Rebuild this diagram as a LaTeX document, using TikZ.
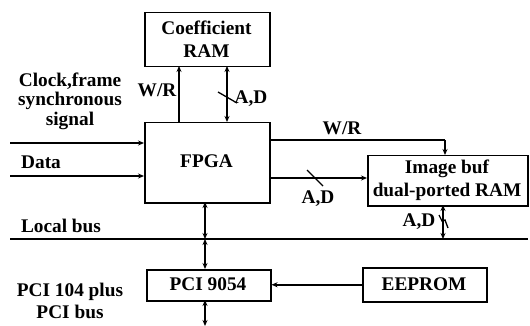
\documentclass[tikz,border=0pt]{standalone}
\usepackage{fontspec}
\setmainfont{Liberation Serif}
\usetikzlibrary{arrows.meta}
\begin{document}
\begin{tikzpicture}[x=1pt,y=-1pt,
  every node/.style={font=\fontsize{19.3}{23}\selectfont\bfseries},
  blk/.style={draw,line width=1.5pt,inner sep=0pt,anchor=north west},
  lbl/.style={inner sep=0pt,align=center},
  conn/.style={line width=1.5pt},
  arr/.style={conn,-{Stealth[length=6pt,width=5pt]}},
  barr/.style={conn,{Stealth[length=6pt,width=5pt]}-{Stealth[length=6pt,width=5pt]}},
  slash/.style={line width=1.3pt}]
\useasboundingbox (0,0) rectangle (530,326);
% blocks
\node[blk,minimum width=125pt,minimum height=54pt] (coef) at (144,12) {};
\node[lbl] (coeft) at (206.5,39) {Coefficient\\RAM};
\node[blk,minimum width=125pt,minimum height=80pt] (fpga) at (144,122) {};
\node[lbl] (fpgat) at (206.5,161) {FPGA};
\node[blk,minimum width=160pt,minimum height=50pt] (img) at (367,155) {};
\node[lbl] (imgt) at (447,180.5) {Image buf\\dual-ported RAM};
\node[blk,minimum width=124pt,minimum height=31pt] (pci) at (146,269) {};
\node[lbl] (pcit) at (208,284.5) {PCI 9054};
\node[blk,minimum width=124pt,minimum height=34pt] (eep) at (362,267) {};
\node[lbl] (eept) at (424,284) {EEPROM};
% coordinates
\coordinate (clk0) at (10,143);
\coordinate (dat0) at (10,176);
\coordinate (lb0) at (10,239);
\coordinate (lb1) at (528,239);
\coordinate (wrtop) at (179,66);
\coordinate (wrbot) at (179,122);
\coordinate (adtop) at (227,66);
\coordinate (adbot) at (227,122);
\coordinate (fl) at (205,202);
\coordinate (flb) at (205,239);
\coordinate (pt) at (205,269);
\coordinate (pb) at (205,300);
\coordinate (pend) at (205,326);
\coordinate (wr2a) at (269,140);
\coordinate (wr2b) at (445,140);
\coordinate (wr2c) at (445,155);
\coordinate (ad2a) at (269,178);
\coordinate (ad2b) at (367,178);
\coordinate (ad3a) at (443,205);
\coordinate (ad3b) at (443,239);
% connectors
\draw[arr] (clk0) -- (fpga.west |- clk0);
\draw[arr] (dat0) -- (fpga.west |- dat0);
\draw[conn] (lb0) -- (lb1);
\draw[arr] (wrbot) -- (wrtop);
\draw[barr] (adbot) -- (adtop);
\draw[slash] (218,92) -- (237,103);
\draw[barr] (fl) -- (flb);
\draw[barr] (flb) -- (pt);
\draw[barr] (pb) -- (pend);
\draw[conn] (wr2a) -- (wr2b);
\draw[arr] (wr2b) -- (wr2c);
\draw[arr] (ad2a) -- (ad2b);
\draw[slash] (307,170) -- (323,186);
\draw[barr] (ad3a) -- (ad3b);
\draw[slash] (439,215) -- (442,221) -- (445,220) -- (448,228);
\draw[arr] (eep.west) -- (pci.east |- eep.west);
% labels
\node[lbl] (clkl) at (70,81) {Clock,frame};
\node[lbl] (synl) at (70,101) {synchronous};
\node[lbl] (sigl) at (70,121) {signal};
\node[lbl] (datl) at (41,162) {Data};
\node[lbl] (lbl) at (61,226) {Local bus};
\node[lbl] (pcil1) at (70,292) {PCI 104 plus};
\node[lbl] (pcil2) at (70,312) {PCI bus};
\node[lbl] (wr1) at (157,90) {W/R};
\node[lbl] (ad1) at (251,99) {A,D};
\node[lbl] (wr2) at (342,128) {W/R};
\node[lbl] (ad2) at (318,199) {A,D};
\node[lbl] (ad3) at (419,222) {A,D};
\end{tikzpicture}
\end{document}
